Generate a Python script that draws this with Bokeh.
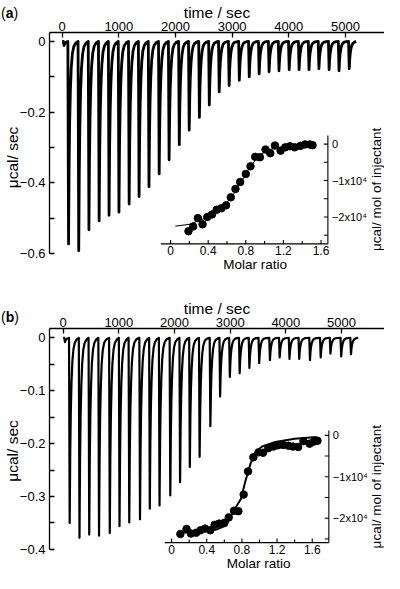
import math
from bokeh.plotting import figure
from bokeh.models import Range1d, FixedTicker, Div
from bokeh.core.properties import value
from bokeh.layouts import column
from bokeh.embed import file_html
from bokeh.resources import INLINE

FONT = "Liberation Sans"

# ---------------- data ----------------
# Panel (a): raw ITC thermogram, injection times (s) and peak depths (ucal/s)
inj_time_a = [20, 100, 280, 460, 640, 815, 990, 1170, 1345, 1520, 1700, 1875, 2055, 2230,
              2410, 2585, 2760, 2935, 3115, 3290, 3465, 3640, 3815, 3995, 4170, 4345,
              4520, 4700, 4875, 5055]
peak_a = [-0.012, -0.573, -0.592, -0.533, -0.508, -0.492, -0.483, -0.460, -0.439, -0.411,
          -0.375, -0.335, -0.292, -0.251, -0.215, -0.180, -0.143, -0.125, -0.110, -0.100,
          -0.092, -0.086, -0.083, -0.080, -0.080, -0.080, -0.077, -0.080, -0.083, -0.077]
end_time_a = 5190

# Panel (b)
inj_time_b = [20, 105, 281, 456, 632, 825, 1000, 1175, 1368, 1544, 1719, 1912, 2088, 2263,
              2439, 2632, 2807, 2982, 3158, 3333, 3509, 3702, 3877, 4053, 4228, 4421,
              4614, 4789, 4982, 5158]
peak_b = [-0.008, -0.350, -0.378, -0.372, -0.374, -0.369, -0.356, -0.349, -0.343, -0.323,
          -0.317, -0.298, -0.273, -0.244, -0.225, -0.167, -0.111, -0.074, -0.067, -0.057,
          -0.048, -0.042, -0.037, -0.040, -0.040, -0.042, -0.037, -0.030, -0.035, -0.031]
end_time_b = 5300

# Insets: integrated heats (ucal/mol of injectant) vs molar ratio
ratio_a = [0.19, 0.24, 0.29, 0.34, 0.39, 0.44, 0.49, 0.54, 0.59, 0.64, 0.69, 0.74, 0.80,
           0.85, 0.90, 0.95, 1.01, 1.06, 1.11, 1.17, 1.22, 1.27, 1.32, 1.38, 1.43, 1.48, 1.51]
heat_a = [-23900, -22600, -20300, -22000, -20000, -19300, -18000, -17600, -16800, -14600,
          -12300, -10400, -8200, -6100, -3500, -3600, -1500, -2500, -400, -1800, -900,
          -600, -900, -500, -100, -100, -300]
fit_ratio_a = [0.05, 0.20, 0.40, 0.55, 0.65, 0.75, 0.85, 0.95, 1.05, 1.20, 1.40, 1.52]
fit_heat_a = [-22500, -22000, -20000, -17500, -14500, -10500, -6000, -3000, -1500, -700,
              -300, -200]

ratio_b = [0.10, 0.17, 0.22, 0.28, 0.33, 0.38, 0.44, 0.49, 0.54, 0.60, 0.65, 0.71, 0.76,
           0.82, 0.87, 0.93, 0.99, 1.04, 1.10, 1.16, 1.21, 1.27, 1.33, 1.38, 1.44, 1.50,
           1.57, 1.62, 1.66]
heat_b = [-23800, -22600, -23700, -23500, -22900, -22500, -22900, -21600, -21300, -21100,
          -19800, -18200, -18300, -14300, -8700, -5300, -4100, -4200, -3100, -2700, -2400,
          -2300, -2500, -2700, -2800, -1400, -2000, -1500, -1300]
fit_ratio_b = [0.07, 0.30, 0.50, 0.62, 0.70, 0.79, 0.84, 0.90, 0.96, 1.03, 1.18, 1.40, 1.65]
fit_heat_b = [-23500, -23300, -22800, -21800, -18400, -15300, -11000, -6700, -3900, -2700,
              -1600, -800, -400]

time_ticks = [0, 1000, 2000, 3000, 4000, 5000]
power_ticks_a = [-0.6, -0.4, -0.2, 0]
power_minor_a = [-0.5, -0.3, -0.1]
power_ticks_b = [-0.4, -0.3, -0.2, -0.1, 0]
power_minor_b = [-0.35, -0.25, -0.15, -0.05]
ratio_ticks = [0, 0.4, 0.8, 1.2, 1.6]
ratio_tick_labels = ["0", "0.4", "0.8", "1.2", "1.6"]
ratio_minor = [0.2, 0.6, 1.0, 1.4]
heat_ticks = [-20000, -10000, 0]
heat_tick_labels = ["\u22122x10\u2074", "\u22121x10\u2074", "0"]
heat_minor = [-25000, -15000, -5000]

# shape of one injection peak (styling template: time offset, fraction of depth)
SPIKE_DT = [0, 12, 22, 32, 45, 60, 80, 105, 140]
SPIKE_FR = [0, 1.0, 0.62, 0.40, 0.24, 0.13, 0.06, 0.025, 0.008]

# ---------------- layout helpers (pixel geometry) ----------------
W = 384
LEFT = 41           # frame left edge in canvas px
VS = 0.975          # vertical squeeze reference px -> canvas px
TF = value(FONT)


def thermogram(times, peaks, t_end):
    xs, ys = [0], [0.0]
    for i, (t0, d) in enumerate(zip(times, peaks)):
        t_next = times[i + 1] if i + 1 < len(times) else t_end
        for dt, fr in zip(SPIKE_DT, SPIKE_FR):
            if t0 + dt < t_next - 2:
                xs.append(t0 + dt)
                ys.append(d * fr)
        xs.append(t_next - 1)
        ys.append(0.0)
    return xs, ys


def minus_labels(ticks):
    return {t: ("%g" % t).replace("-", "\u2212") if t != 0 else "0" for t in ticks}


def style_axis(ax, font_size, label_size):
    ax.axis_line_color = "black"
    ax.axis_line_width = 1.3
    ax.major_tick_line_color = "black"
    ax.minor_tick_line_color = "black"
    ax.major_tick_line_width = 1.3
    ax.minor_tick_line_width = 1.3
    ax.major_tick_out = 0
    ax.minor_tick_out = 0
    ax.major_label_text_font = FONT
    ax.major_label_text_font_size = font_size
    ax.major_label_text_color = "black"
    ax.axis_label_text_font = FONT
    ax.axis_label_text_font_size = label_size
    ax.axis_label_text_font_style = "normal"
    ax.axis_label_text_color = "black"


def lin_range(v0, p0, v1, p1, pa, pb):
    """value range whose ends land on pixels pa, pb given two anchors (value, pixel)."""
    k = (v1 - v0) / (p1 - p0)
    return (v0 + (pa - p0) * k, v0 + (pb - p0) * k)


def panel(height, c0, top, sx, sy, smr, sq, p_ticks, p_minor, times, peaks, t_end,
          ins, ratio, heat, fit_r, fit_h, fit_w, line_w):
    fy = lambda yref: (yref - 4) * VS - c0      # reference px -> figure px
    fx = lambda xref: xref - 8
    xr = lin_range(sx[0], fx(sx[1]), sx[2], fx(sx[3]), LEFT, W)
    yb, yt = lin_range(sy[0], fy(sy[1]), sy[2], fy(sy[3]), height, top)
    mr = lin_range(smr[0], fx(smr[1]), smr[2], fx(smr[3]), LEFT, W)
    qb, qt = lin_range(sq[0], fy(sq[1]), sq[2], fy(sq[3]), height, top)

    p = figure(width=W, height=height, x_range=Range1d(*xr), y_range=Range1d(yb, yt),
               x_axis_location="above", output_backend="svg", toolbar_location=None,
               min_border_left=LEFT, min_border_right=0, min_border_top=top,
               min_border_bottom=0)
    p.outline_line_color = None
    p.grid.visible = False
    p.background_fill_color = "white"
    p.border_fill_color = "white"

    xa = p.xaxis[0]
    style_axis(xa, "13px", "15.5px")
    xa.ticker = FixedTicker(ticks=time_ticks)
    xa.major_tick_in = 5
    xa.minor_tick_in = 0
    xa.major_label_standoff = 2
    xa.axis_label = "time / sec"
    xa.axis_label_standoff = -2

    ya = p.yaxis[0]
    style_axis(ya, "13px", "15.5px")
    ya.ticker = FixedTicker(ticks=p_ticks, minor_ticks=p_minor)
    ya.major_label_overrides = minus_labels(p_ticks)
    ya.bounds = (p_ticks[0], yt)
    ya.major_tick_in = 5
    ya.minor_tick_in = 5
    ya.major_label_standoff = 4
    ya.axis_label = "\u03bccal/ sec"
    ya.axis_label_standoff = -4

    xs, ys = thermogram(times, peaks, t_end)
    p.line(xs, ys, line_color="black", line_width=line_w, line_join="round")

    # ---- inset on its own scales (extra ranges) ----
    p.extra_x_ranges = {"mr": Range1d(*mr)}
    p.extra_y_ranges = {"q": Range1d(qb, qt)}
    kw = dict(x_range_name="mr", y_range_name="q")
    x0, x1, qax, qtop = ins["x0"], ins["x1"], ins["qax"], ins["qtop"]
    p.line([x0, x1], [qax, qax], line_color="black", line_width=1.1, **kw)
    p.ray(ratio_ticks, [qax] * len(ratio_ticks), length=4, length_units="screen",
          angle=90, angle_units="deg", line_color="black", line_width=1.1, **kw)
    p.ray(ratio_minor, [qax] * len(ratio_minor), length=3, length_units="screen",
          angle=90, angle_units="deg", line_color="black", line_width=1.1, **kw)
    p.text(ratio_ticks, [qax] * len(ratio_ticks), text=ratio_tick_labels,
           text_font=TF, text_font_size="12px", text_align="center",
           text_baseline="top", y_offset=2.5, text_color="black", **kw)
    p.text([ins["mlab_x"]], [qax], text=["Molar ratio"], text_font=TF,
           text_font_size="13.5px", text_align="center", text_baseline="top",
           y_offset=13.5, text_color="black", **kw)
    p.line([x1, x1], [qax, qtop], line_color="black", line_width=1.1, **kw)
    p.ray([x1] * len(heat_ticks), heat_ticks, length=4, length_units="screen",
          angle=180, angle_units="deg", line_color="black", line_width=1.1, **kw)
    p.ray([x1] * len(heat_minor), heat_minor, length=4, length_units="screen",
          angle=180, angle_units="deg", line_color="black", line_width=1.1, **kw)
    p.text([x1] * len(heat_ticks), heat_ticks, text=heat_tick_labels,
           text_font=TF, text_font_size="11px", text_align="left",
           text_baseline="middle", x_offset=4, text_color="black", **kw)
    px_per_m = (W - LEFT) / (mr[1] - mr[0])
    p.text([x1 + ins["qlab_dx"] / px_per_m], [ins["qlab_y"]],
           text=["\u03bccal/ mol of injectant"], text_font=TF,
           text_font_size="13.5px", text_align="center", text_baseline="middle",
           angle=90, angle_units="deg", text_color="black", **kw)

    p.line(fit_r, fit_h, line_color="black", line_width=fit_w, **kw)
    p.scatter(ratio, heat, size=7.5, fill_color="black", line_color="black", **kw)
    return p


def letter_div(letter, top):
    # absolutely positioned on the page (does not take space in the column)
    return Div(text="(<b>%s</b>)" % letter, margin=(0, 0, 0, 0),
               styles={"position": "absolute", "left": "1px", "top": "%dpx" % top,
                       "z-index": "10", "font-family": FONT, "font-size": "14px",
                       "line-height": "16px", "color": "black"})


# scale anchors: (value0, ref px0, value1, ref px1)
pa = panel(282, 0, 28,
           (0, 62, 5000, 352), (0, 42, -0.6, 263), (0, 173, 1.6, 327), (0, 149, -20000, 225),
           power_ticks_a, power_minor_a, inj_time_a, peak_a, end_time_a,
           dict(x0=-0.104, x1=1.673, qax=-27368, qtop=2368, mlab_x=0.9,
                qlab_dx=49.5, qlab_y=-12400),
           ratio_a, heat_a, fit_ratio_a, fit_heat_a, 1, 2.8)

pb = panel(291, 282, 46,
           (0, 63, 5000, 348), (0, 350, -0.4, 567), (0, 174, 1.6, 318), (0, 450, -20000, 535),
           power_ticks_b, power_minor_b, inj_time_b, peak_b, end_time_b,
           dict(x0=-0.078, x1=1.789, qax=-25882, qtop=1200, mlab_x=0.99,
                qlab_dx=48.5, qlab_y=-12400),
           ratio_b, heat_b, fit_ratio_b, fit_heat_b, 2, 2.2)

layout = column(pa, pb, letter_div("a", 5), letter_div("b", 309), spacing=0)
open("out.html", "w").write(file_html(layout, INLINE))
